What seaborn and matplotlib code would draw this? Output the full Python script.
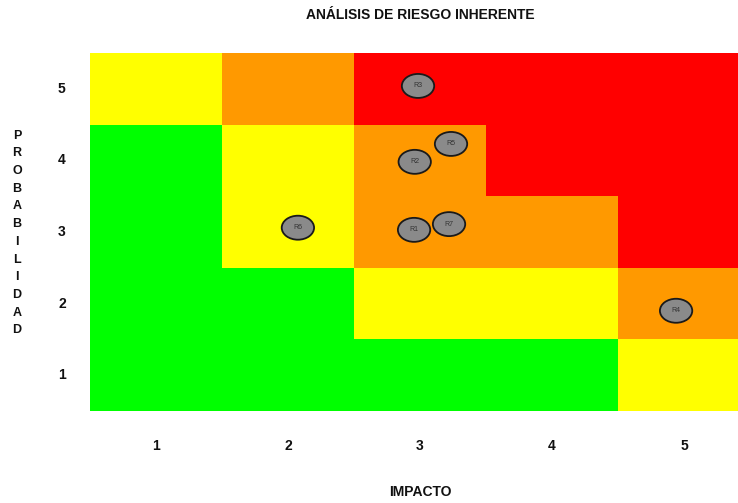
import numpy as np
import pandas as pd
import matplotlib
matplotlib.use("Agg")
import matplotlib.pyplot as plt
from matplotlib.colors import ListedColormap
from matplotlib.patches import Ellipse
import seaborn as sns

# Risk levels per cell: 0 = bajo (verde), 1 = moderado (amarillo), 2 = alto (naranja), 3 = extremo (rojo)
probabilidad = [5, 4, 3, 2, 1]
impacto = [1, 2, 3, 4, 5]
niveles = [
    [1, 2, 3, 3, 3],
    [0, 1, 2, 3, 3],
    [0, 1, 2, 2, 3],
    [0, 0, 1, 1, 2],
    [0, 0, 0, 0, 1],
]
colores_nivel = ["#00FF00", "#FFFF00", "#FF9900", "#FF0000"]

# Riesgos ubicados en la matriz (impacto, probabilidad)
riesgos = ["R1", "R2", "R3", "R4", "R5", "R6", "R7"]
riesgo_impacto = [2.955, 2.96, 2.985, 4.94, 3.235, 2.075, 3.22]
riesgo_prob = [3.03, 3.98, 5.04, 1.90, 4.23, 3.06, 3.11]

sns.set_theme(style="white")
plt.rcParams["font.family"] = ["Liberation Sans", "DejaVu Sans"]

fig = plt.figure(figsize=(7.38, 5.03), dpi=100)
ax = fig.add_axes([90 / 738, 1 - 411 / 503, 5 * 132 / 738, 358 / 503])

tabla = pd.DataFrame(niveles, index=probabilidad, columns=impacto)
sns.heatmap(tabla, ax=ax, cmap=ListedColormap(colores_nivel), vmin=-0.5, vmax=3.5,
            cbar=False, linewidths=0, square=False)

# Heatmap cells sit on [i, i+1]; rows run from probability 5 at the top
def a_celda(imp, prob):
    return imp - 0.5, 5.5 - prob

for nombre, xi, yi in zip(riesgos, riesgo_impacto, riesgo_prob):
    cx, cy = a_celda(xi, yi)
    ax.add_patch(Ellipse((cx, cy), width=0.245, height=0.335, facecolor="#8a8a8a",
                         edgecolor="#1a1a1a", linewidth=1.3, zorder=3))
    ax.text(cx, cy, nombre, ha="center", va="center", fontsize=5,
            color="#333333", zorder=4)

ax.set_xticks([i + 0.5 for i in range(len(impacto))])
ax.set_xticklabels([str(v) for v in impacto], fontsize=10, fontweight="bold", color="#111111")
ax.set_yticks([i + 0.5 for i in range(len(probabilidad))])
ax.set_yticklabels([str(v) for v in probabilidad], fontsize=10, fontweight="bold",
                   color="#111111", rotation=0)
ax.tick_params(axis="x", length=0, pad=20)
ax.tick_params(axis="y", length=0, pad=17.5)
ax.set_xlabel("")
ax.set_ylabel("")
for s in ax.spines.values():
    s.set_visible(False)

fig.text(420 / 738, 1 - 15 / 503, "ANÁLISIS DE RIESGO INHERENTE", ha="center", va="center",
         fontsize=10, fontweight="bold", color="#111111",
         family=["Liberation Sans Narrow", "Liberation Sans", "DejaVu Sans"])
fig.text(420 / 738, 1 - 492 / 503, "IMPACTO", ha="center", va="center",
         fontsize=10, fontweight="bold", color="#111111",
         family=["Liberation Sans Narrow", "Liberation Sans", "DejaVu Sans"])
fig.text(17 / 738, 1 - 233 / 503, "\n".join("PROBABILIDAD"), ha="center", va="center",
         fontsize=9, fontweight="bold", color="#111111", linespacing=1.63)

fig.savefig("out.png", dpi=100)
